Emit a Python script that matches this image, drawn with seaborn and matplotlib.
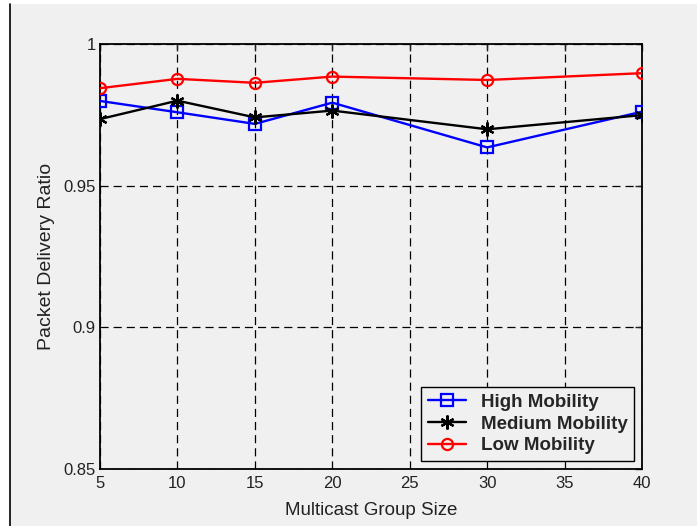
import matplotlib
matplotlib.use("Agg")
import matplotlib.pyplot as plt
import seaborn as sns
import pandas as pd
from matplotlib.patches import Rectangle
from matplotlib.lines import Line2D

group_sizes = [5, 10, 15, 20, 30, 40]
high_mobility = [0.9799, 0.9759, 0.9718, 0.9793, 0.9635, 0.9761]
medium_mobility = [0.9735, 0.9800, 0.9741, 0.9765, 0.9699, 0.9749]
low_mobility = [0.9844, 0.9877, 0.9863, 0.9885, 0.9873, 0.9897]
x_ticks = [5, 10, 15, 20, 25, 30, 35, 40]
y_ticks = [0.85, 0.9, 0.95, 1.0]
y_tick_labels = ["0.85", "0.9", "0.95", "1"]

sns.set_style("white")
plt.rcParams['font.family'] = ['Liberation Sans', 'DejaVu Sans']

BG = "#f0f0f0"
fig = plt.figure(figsize=(6.97, 5.26), dpi=100, facecolor="white")
fig.patches.append(Rectangle((10 / 697, 0), 1 - 10 / 697, 522 / 526,
                             transform=fig.transFigure, facecolor=BG,
                             edgecolor="none", zorder=-10))
fig.lines.append(Line2D([9.5 / 697, 9.5 / 697], [0, 522 / 526],
                        transform=fig.transFigure, color="black", lw=1.2,
                        zorder=-9))

ax = fig.add_axes([100 / 697, 1 - 469 / 526, 542 / 697, 425 / 526])
ax.set_facecolor(BG)

series = [
    ("High Mobility", high_mobility, "#0000ff", "s", 8),
    ("Medium Mobility", medium_mobility, "#000000", (6, 2, 0), 10),
    ("Low Mobility", low_mobility, "#ff0000", "o", 8),
]
for name, vals, col, mk, ms in series:
    df = pd.DataFrame({"size": group_sizes, "pdr": vals})
    sns.lineplot(data=df, x="size", y="pdr", ax=ax, color=col, lw=1.7,
                 marker=mk, markersize=ms,
                 markerfacecolor="none" if mk != (6, 2, 0) else col,
                 markeredgecolor=col, markeredgewidth=1.6, label=name,
                 zorder=3)

ax.set_xlim(5, 40)
ax.set_ylim(0.85, 1.0)
ax.set_xticks(x_ticks)
ax.set_yticks(y_ticks)
ax.set_yticklabels(y_tick_labels)
ax.grid(True, color="black", linestyle=(0, (6.5, 4)), lw=0.9)
for s in ax.spines.values():
    s.set_visible(True)
    s.set_color("black")
    s.set_linewidth(1.3)
ax.tick_params(direction="in", length=5, width=1, top=True, right=True,
               labelsize=12, colors="#222222", pad=3)
ax.tick_params(axis="x", pad=5)
ax.set_xlabel("Multicast Group Size", fontsize=13.5, color="#222222", labelpad=8)
ax.set_ylabel("Packet Delivery Ratio", fontsize=14, color="#222222", labelpad=6)

leg = ax.legend(loc="lower right", bbox_to_anchor=(0.985, 0.019),
                borderaxespad=0,
                prop={"weight": "bold", "size": 13.5}, frameon=True,
                fancybox=False, edgecolor="black", facecolor=BG, framealpha=1,
                handlelength=2.0, borderpad=0.35, labelspacing=0.25,
                handletextpad=0.8)
leg.get_frame().set_linewidth(1.0)

fig.savefig("out.png", dpi=100, facecolor="white")
